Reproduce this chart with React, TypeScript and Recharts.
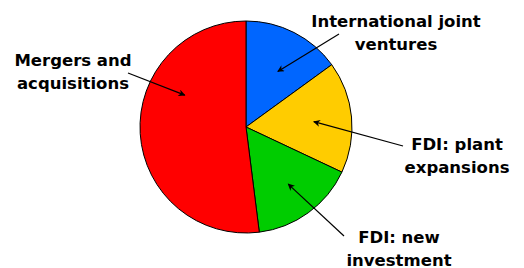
import { PieChart, Pie, Cell } from "recharts"

const categories = [
  "International joint ventures",
  "FDI: plant expansions",
  "FDI: new investment",
  "Mergers and acquisitions",
]
const shares = [15, 17, 16, 52]
const COLORS = ["#0066ff", "#ffcc00", "#00cc00", "#ff0000"]

// annotation layout: text lines, text centre, arrow tail, arrow tip (polar, relative to pie)
const labelLines = [
  ["International joint", "ventures"],
  ["FDI: plant", "expansions"],
  ["FDI: new", "investment"],
  ["Mergers and", "acquisitions"],
]
const labelAt = [
  [396, 27],
  [457, 150],
  [399, 243],
  [73, 66],
]
const arrowFrom = [
  [339, 34],
  [403, 146],
  [344, 236],
  [128, 73],
]
const arrowTip = [
  [60.2, 64],
  [4.5, 68],
  [-53.5, 71],
  [152.5, 69],
]

const RAD = Math.PI / 180
const LINE_H = 23

const chartData = categories.map((name, i) => ({ name, value: shares[i] }))

function Annotation(props: any) {
  const { cx, cy, index } = props
  const [ang, r] = arrowTip[index]
  const tx = cx + Math.cos(-ang * RAD) * r
  const ty = cy + Math.sin(-ang * RAD) * r
  const [fx, fy] = arrowFrom[index]
  const [lx, ly] = labelAt[index]
  return (
    <g>
      <line x1={fx} y1={fy} x2={tx} y2={ty} stroke="#000" strokeWidth={1.2} markerEnd="url(#arrow)" />
      <text
        x={lx}
        y={ly}
        textAnchor="middle"
        fontFamily="DejaVu Sans"
        fontWeight="bold"
        fontSize={16.5}
        fill="#000"
      >
        {labelLines[index].map((t, k) => (
          <tspan key={k} x={lx} dy={k === 0 ? 0 : LINE_H}>
            {t}
          </tspan>
        ))}
      </text>
    </g>
  )
}

export default function App() {
  return (
    <div style={{ position: "absolute", left: 0, top: 0, background: "#fff" }}>
      <PieChart width={524} height={268} margin={{ top: 0, right: 0, bottom: 0, left: 0 }}>
        <defs>
          <marker id="arrow" viewBox="0 0 10 10" refX="9" refY="5" markerWidth="8" markerHeight="7" markerUnits="userSpaceOnUse" orient="auto">
            <path d="M0,0 L10,5 L0,10 L3,5 z" fill="#000" />
          </marker>
        </defs>
        <Pie
          data={chartData}
          dataKey="value"
          cx={246}
          cy={127}
          outerRadius={106}
          startAngle={90}
          endAngle={-270}
          stroke="#000"
          strokeWidth={1}
          label={Annotation}
          labelLine={false}
          isAnimationActive={false}
        >
          {chartData.map((_, i) => (
            <Cell key={`cell-${i}`} fill={COLORS[i]} />
          ))}
        </Pie>
      </PieChart>
    </div>
  )
}
